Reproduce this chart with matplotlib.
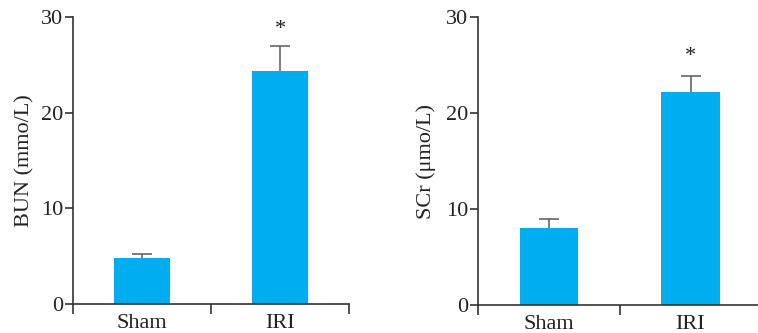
import matplotlib
matplotlib.use("Agg")
import matplotlib.pyplot as plt
import numpy as np

plt.rcParams['font.family'] = ['Liberation Serif', 'DejaVu Serif']

categories = ["Sham", "IRI"]
bun_mean = [4.8, 24.4]
bun_err = [0.4, 2.6]
scr_mean = [8.1, 22.2]
scr_err = [0.9, 1.7]
sig_marks = ["", "*"]
yticks = [0, 10, 20, 30]

bar_color = "#00AEEF"
axis_color = "#333333"
err_color = "#666666"
fs = 16

fig = plt.figure(figsize=(7.58, 3.33), dpi=100)
ax1 = fig.add_axes([0.0963, 0.0871, 0.3641, 0.8619])
ax2 = fig.add_axes([0.6302, 0.0832, 0.3744, 0.8648])

def draw(ax, means, errs, ylabel, star_offset, labelpad):
    x = np.arange(len(categories))
    ax.bar(x, means, width=0.41, color=bar_color, zorder=2)
    eb = ax.errorbar(x, means, yerr=[np.zeros(len(errs)), errs], fmt='none',
                     ecolor=err_color, elinewidth=1.2, capsize=7, capthick=1.2, zorder=3)
    caplines = eb[1]
    if len(caplines) >= 2:
        caplines[0].set_visible(False)
    for xi, m, e, s in zip(x, means, errs, sig_marks):
        if s:
            ax.text(xi, m + e + star_offset, s, ha='center', va='center',
                    fontsize=16, color='#222222')
    ax.set_xlim(-0.5, 1.5)
    ax.set_ylim(0, 30)
    ax.set_yticks(yticks)
    ax.set_xticks(x)
    ax.set_xticklabels(categories)
    ax.set_xticks([-0.5, 0.5, 1.5], minor=True)
    ax.tick_params(axis='x', which='major', length=0, pad=7, labelsize=fs, colors='#222222')
    ax.tick_params(axis='x', which='minor', length=7, width=1.2, direction='out', color=axis_color)
    ax.tick_params(axis='y', length=6, width=1.2, direction='out', color=axis_color,
                   labelsize=fs, labelcolor='#222222', pad=1)
    for side in ['top', 'right']:
        ax.spines[side].set_visible(False)
    for side in ['left', 'bottom']:
        ax.spines[side].set_color(axis_color)
        ax.spines[side].set_linewidth(1.2)
    ax.set_ylabel(ylabel, fontsize=fs, color='#222222', labelpad=labelpad)
    ax.patch.set_alpha(0)

draw(ax1, bun_mean, bun_err, "BUN (mmo/L)", 1.7, 5)
draw(ax2, scr_mean, scr_err, "SCr (μmo/L)", 2.0, 7)

fig.savefig("out.png", dpi=100)
